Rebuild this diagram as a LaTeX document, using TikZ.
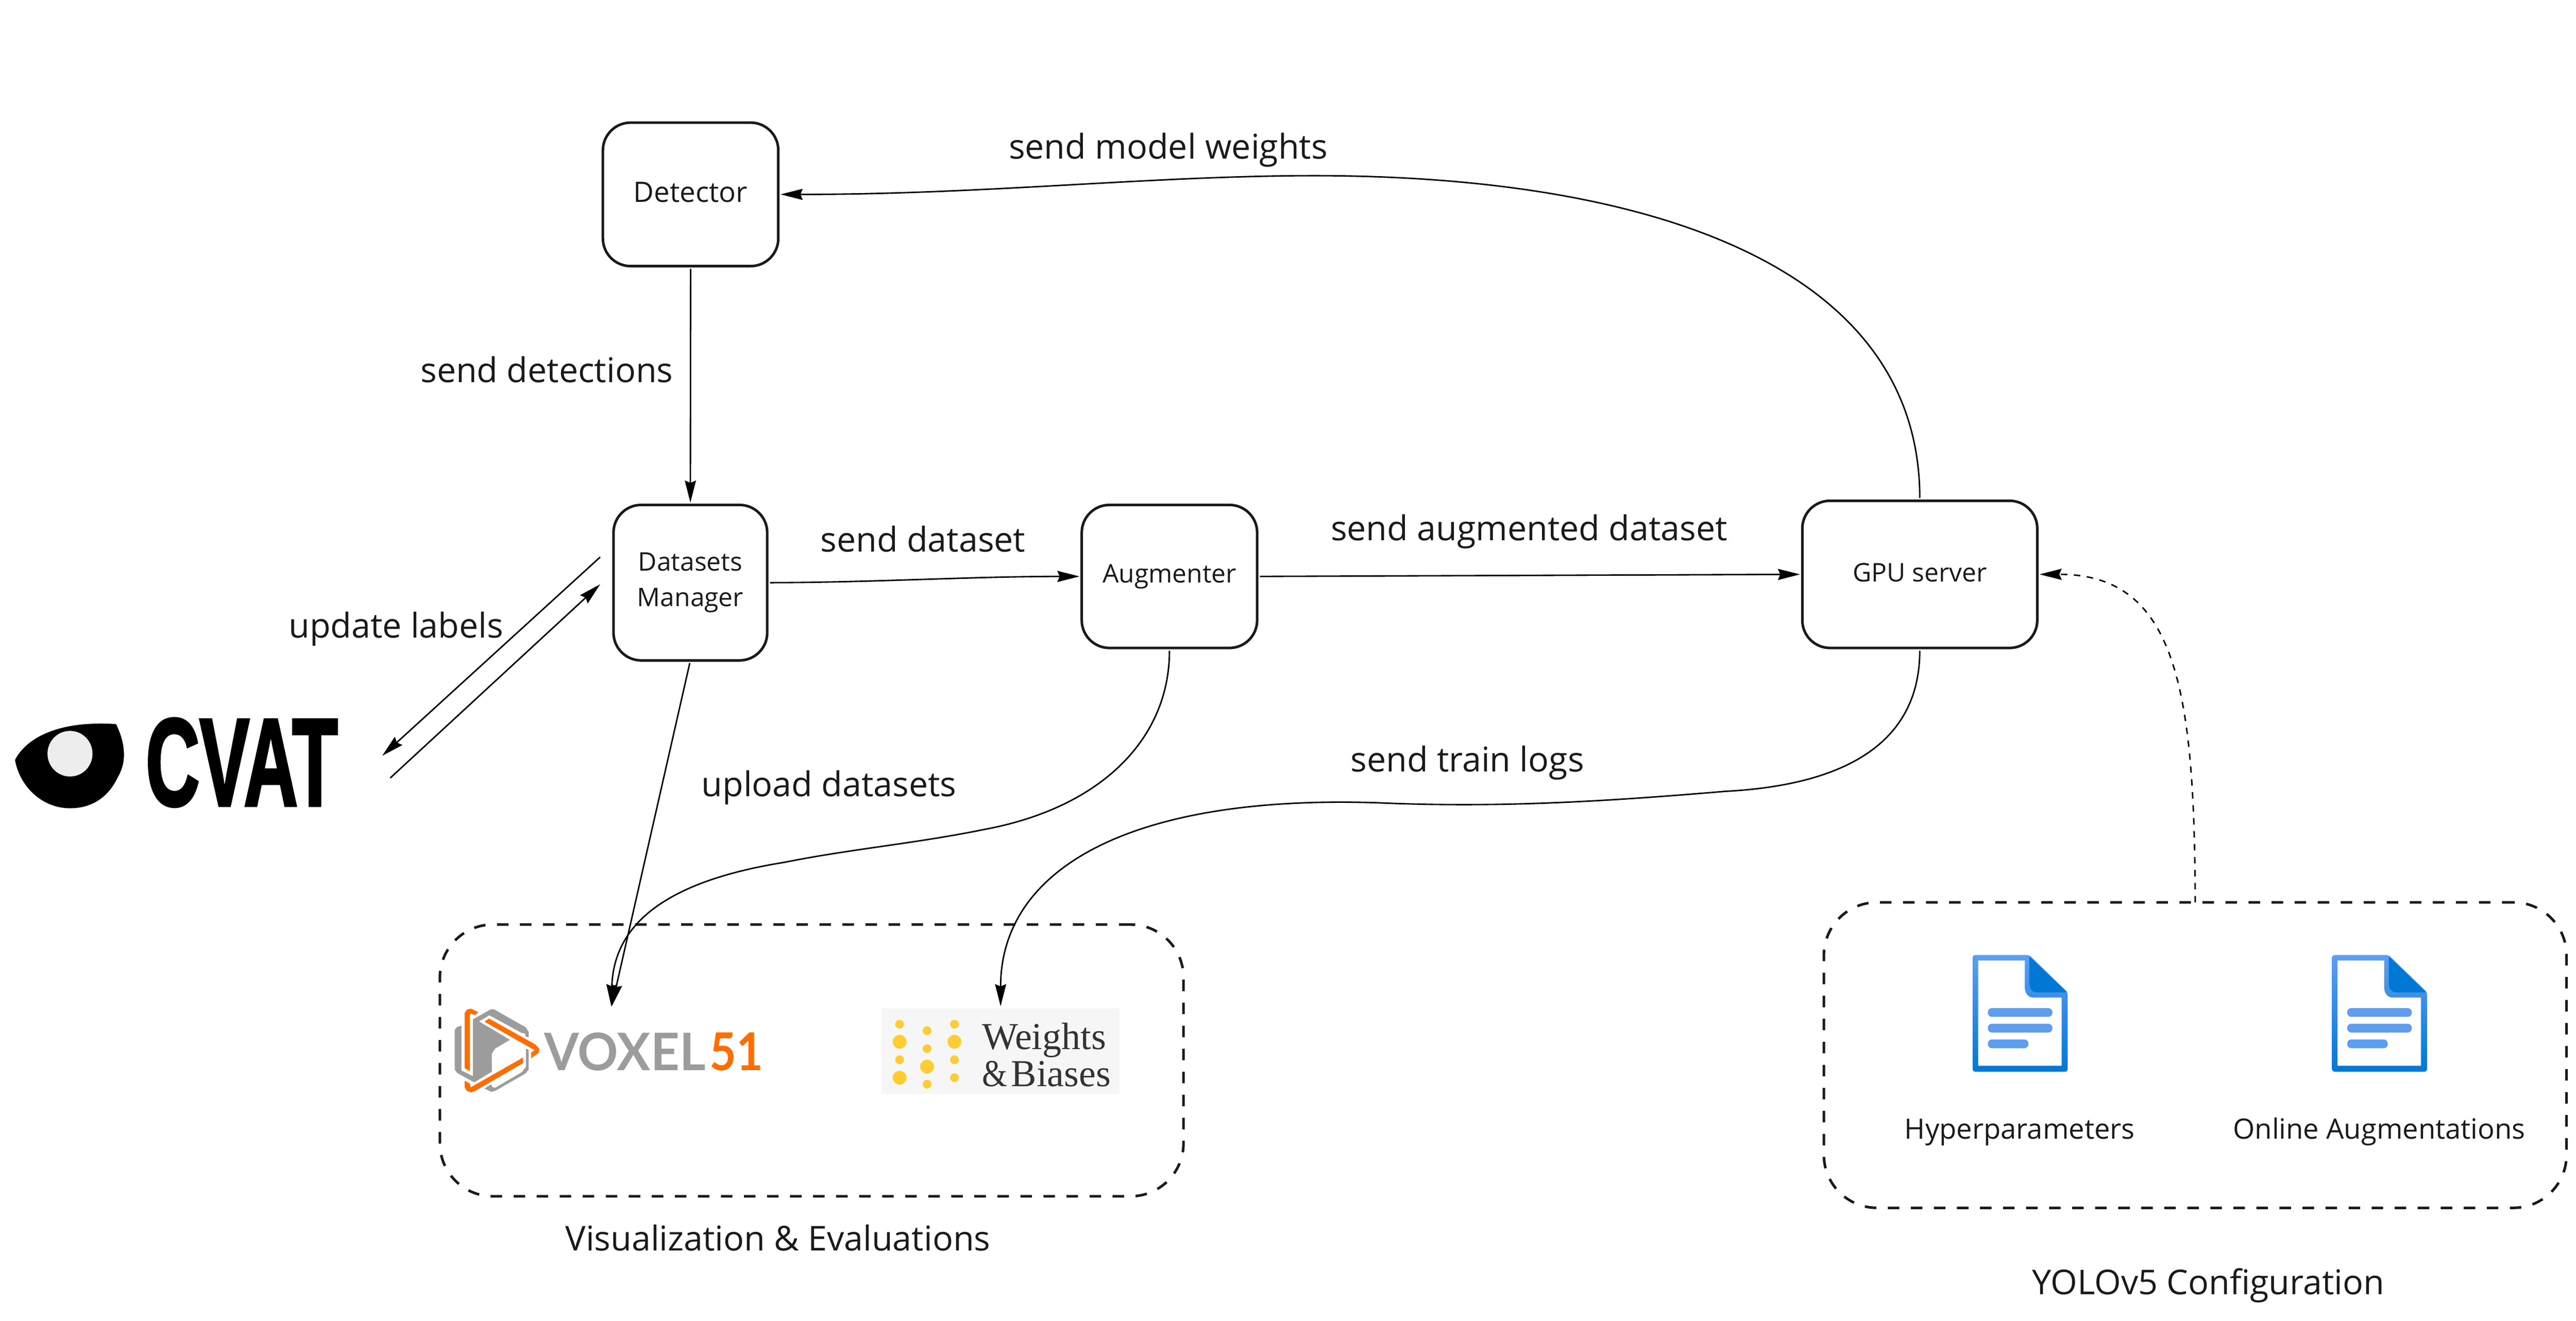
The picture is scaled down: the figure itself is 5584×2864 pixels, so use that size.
\documentclass[tikz,border=0pt]{standalone}
\usepackage{fontspec}
\usepackage{graphicx}
\setmainfont{Open Sans}
\newfontfamily\cvatfont[UprightFont={* Bold},FakeBold=2.5]{Liberation Sans}
\newfontfamily\logolato{Lato}
\newfontfamily\logoserif{Liberation Serif}
\usetikzlibrary{arrows.meta}
\definecolor{ink}{HTML}{1A1A1A}
\definecolor{docdark}{HTML}{0078D4}
\definecolor{doclight}{HTML}{5E9EF0}
\definecolor{voxgray}{HTML}{9C9C9C}
\definecolor{voxorange}{HTML}{FF6D04}
\definecolor{wbyellow}{HTML}{FFCC33}
\definecolor{wbbg}{HTML}{F6F6F6}
\tikzset{
  tipa/.tip={Stealth[length=13.6pt,width=6.8pt,inset=1.4pt]},
  conn/.style={draw=black,line width=0.9pt,-tipa,shorten >=1.4pt,shorten <=1.7pt},
  dconn/.style={conn,dash pattern=on 4pt off 4pt},
  procbox/.style={draw=ink,line width=1.6pt,rounded corners=0.6cm,inner sep=0pt,outer sep=0pt,text=ink,align=center},
  groupbox/.style={draw=ink,line width=1.6pt,rounded corners=1.15cm,inner sep=0pt,outer sep=0pt,dash pattern=on 7.1pt off 7.1pt},
  biglabel/.style={anchor=base west,inner sep=0pt,text=ink,font=\fontsize{21.07}{25}\selectfont},
  midlabel/.style={anchor=base west,inner sep=0pt,text=ink,font=\fontsize{17.25}{20}\selectfont},
  docicon/.pic={
    \path[top color=doclight,bottom color=docdark,rounded corners=1.5pt] (0,0) -- (123,0) -- (206,81) -- (206,253) -- (0,253) -- cycle;
    \fill[white] (12,12) -- (113,12) -- (113,70) .. controls (113,82) and (120,92) .. (130,92) -- (193,92) -- (193,240) -- (12,240) -- cycle;
    \fill[docdark] (123,3) -- (205,81) -- (140,81) .. controls (128,81) and (123,72) .. (123,60) -- cycle;
    \fill[doclight,rounded corners=2.5pt] (33,115) rectangle (173,134);
    \fill[doclight,rounded corners=2.5pt] (33,149) rectangle (173,168);
    \fill[doclight,rounded corners=2.5pt] (33,183) rectangle (121,202);
  }
}
\begin{document}
\begin{tikzpicture}[x=0.01cm,y=-0.01cm]
\useasboundingbox (0,0) rectangle (5584,2864);
\fill[white] (0,0) rectangle (5584,2864);

% process boxes
\node[procbox,minimum width=3.8cm,minimum height=3.11cm,font=\fontsize{17.35}{20}\selectfont] (det) at (1497,421.5) {\raisebox{1.4pt}[\height][\depth]{Detector}};
\node[procbox,minimum width=3.33cm,minimum height=3.37cm,font=\fontsize{15.8}{22.1}\selectfont] (dm) at (1496.5,1263.5) {Datasets\\Manager};
\node[procbox,minimum width=3.8cm,minimum height=3.1cm,font=\fontsize{15.8}{20}\selectfont] (aug) at (2535,1250) {Augmenter};
\node[procbox,minimum width=5.09cm,minimum height=3.19cm,font=\fontsize{15.8}{20}\selectfont] (gpu) at (4161.5,1245.5) {\raisebox{1pt}[\height][\depth]{GPU server}};

% group boxes
\node[groupbox,minimum width=16.11cm,minimum height=5.89cm] (viz) at (1759.5,2299.5) {};
\node[groupbox,minimum width=16.09cm,minimum height=6.62cm] (cfg) at (4758.5,2288) {};

% CVAT logo
\begin{scope}[shift={(0,1100)},x=0.010841cm,y=-0.005102cm]
  \fill[black] (30,1075) .. controls (50,990) and (110,905) .. (232,922)
    .. controls (250,1000) and (255,1080) .. (235,1150)
    .. controls (215,1240) and (180,1280) .. (140,1280)
    .. controls (85,1280) and (40,1190) .. (30,1075) -- cycle;
  \fill[black!7] (140,1048) ellipse [x radius=45,y radius=97];
\end{scope}
\node[inner sep=0pt,outer sep=0pt,anchor=south west] (cvat) at (316,1749) {\resizebox{4.16cm}{1.88cm}{\cvatfont CVAT}};

% Voxel51 logo
\begin{scope}[shift={(950,2150)},x=0.004783cm,y=-0.003333cm]
  \fill[voxgray] (157,182) -- (240,115) -- (255,118) -- (395,232) -- (410,262) -- (410,298) -- (398,295) -- (392,272) -- (378,270) -- (232,155) -- (185,195) -- (325,315) -- (258,372) -- (243,405) -- (243,523) -- (163,592) -- (85,530) -- (75,510) -- (75,250) -- (85,232) -- (105,222) -- (105,515) -- (157,552) -- cycle;
  \fill[voxgray] (398,372) -- (410,380) -- (410,510) -- (395,535) -- (258,648) -- (240,654) -- (210,632) -- (240,605) -- (245,622) -- (258,628) -- (380,525) -- (398,490) -- cycle;
  \fill[voxorange] (120,500) -- (120,140) -- (130,118) -- (148,112) -- (182,135) -- (165,155) -- (150,143) -- (143,150) -- (143,518) -- cycle;
  \fill[voxorange] (230,176) -- (440,345) -- (458,372) -- (455,400) -- (422,435) -- (422,397) -- (438,383) -- (210,197) -- cycle;
  \fill[voxorange] (385,430) -- (385,467) -- (165,650) -- (148,657) -- (130,648) -- (120,625) -- (120,582) -- (143,600) -- (147,625) -- cycle;
\end{scope}
\node[inner sep=0pt,outer sep=0pt,anchor=south west,text=voxgray] (voxel) at (1180,2322) {\resizebox{3.49cm}{0.82cm}{\logolato\bfseries VOXEL}};
\node[inner sep=0pt,outer sep=0pt,anchor=south west,text=voxorange] (v51) at (1538,2322) {\resizebox{1.16cm}{0.82cm}{\logolato\bfseries 51}};
\coordinate (voxelin) at (1325,2187);

% Weights & Biases logo
\node[fill=wbbg,inner sep=0pt,outer sep=0pt,minimum width=5.16cm,minimum height=1.85cm] (wb) at (2169,2279.5) {};
\foreach \px/\py/\pr in {1950/2221/9.5,1950/2259/15,1950/2298/9.5,1950/2337/15,
  2009.6/2235/9.5,2009.6/2274/9.5,2009.6/2313/15,2009.6/2351/9.5,
  2069/2221/9.5,2069/2259/15,2069/2298/9.5,2069/2337/9.5}
  \fill[wbyellow] (\px,\py) circle [radius=\pr];
\node[anchor=base west,inner sep=0pt,text=black!80,font=\logoserif\fontsize{23.5}{26}\selectfont] (wbt1) at (2128,2275) {Weights};
\node[anchor=base west,inner sep=0pt,text=black!80,font=\logoserif\fontsize{23.5}{26}\selectfont] (wbt2) at (2128,2356) {\scalebox{0.85}[1]{\&}\kern2.5pt Biases};

% document icons
\pic at (4276,2071) {docicon};
\pic at (5055,2071) {docicon};

% connectors
\draw[conn] (det.south) -- (dm.north);
\draw[conn] (dm.east) .. controls (1900,1263) and (2100,1250) .. (aug.west);
\draw[conn] (aug.east) -- (gpu.west);
\draw[conn] (gpu.north) .. controls (4161,570) and (3561,381) .. (2849,381)
   .. controls (2493,381) and (2136,422) .. (det.east);
\draw[conn] (dm.south) -- (voxelin);
\draw[conn] (aug.south) .. controls (2535,1600) and (2390,1750) .. (2137,1798)
   .. controls (1980,1830) and (1850,1840) .. (1700,1870)
   .. controls (1450,1910) and (1330,2000) .. (voxelin);
\draw[conn] (gpu.south) .. controls (4161,1640) and (3950,1705) .. (3740,1716)
   .. controls (3480,1738) and (3250,1752) .. (2991,1741)
   .. controls (2457,1722) and (2169,1880) .. (wb.north);
\draw[dconn,shorten <=0pt] (cfg.north) .. controls (4757,1500) and (4720,1245) .. (gpu.east);

% links with CVAT
\coordinate (cvatout) at (828.5,1639);
\coordinate (dmout) at (1301,1208);
\coordinate (cvatin) at (846,1687);
\coordinate (dmin) at (1301,1267);
\draw[conn,shorten >=0pt,shorten <=0pt] (dmout) -- (cvatout);
\draw[conn,shorten >=0pt,shorten <=0pt] (cvatin) -- (dmin);

% labels
\node[biglabel] (l1) at (2186,345) {send model weights};
\node[biglabel] (l2) at (911,829) {send detections};
\node[biglabel] (l3) at (625,1383) {update labels};
\node[biglabel] (l4) at (1778,1197) {send dataset};
\node[biglabel] (l5) at (2884,1172) {send augmented dataset};
\node[biglabel] (l6) at (1520,1727) {upload datasets};
\node[biglabel] (l7) at (2927,1674) {send train logs};
\node[biglabel] (l8) at (1225,2712) {Visualization \& Evaluations};
\node[biglabel] (l9) at (4405,2807) {YOLOv5 Configuration};
\node[midlabel] (l10) at (4128,2470) {Hyperparameters};
\node[midlabel] (l11) at (4840,2470) {Online Augmentations};
\end{tikzpicture}
\end{document}
